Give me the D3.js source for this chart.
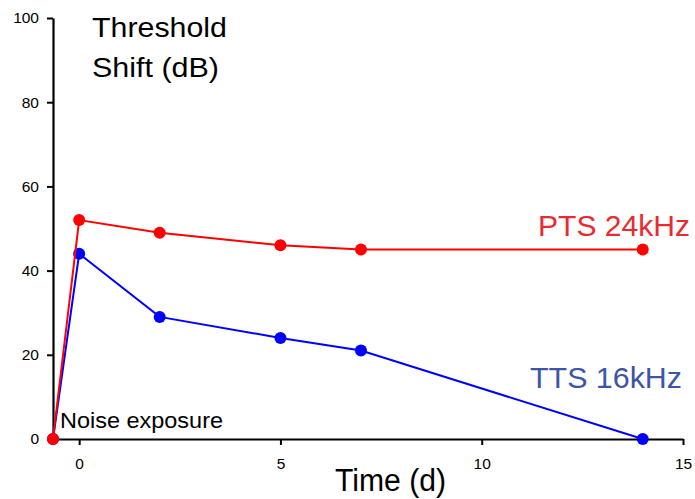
<!DOCTYPE html>
<html>
<head>
<meta charset="utf-8">
<script src="https://cdn.jsdelivr.net/npm/d3@7"></script>
<style>
  body { margin: 0; background: #fff; }
  text { font-family: "Liberation Sans", Arial, sans-serif; }
</style>
</head>
<body>
<div id="canvas"></div>
<script>
"use strict";

/* Data */
let days = [-0.65, 0, 2, 5, 7, 14];
let ptsValues = [0, 52, 49, 46, 45, 45];
let ttsValues = [0, 44, 29, 24, 21, 0];
let xTicks = [0, 5, 10, 15];
let yTicks = [0, 20, 40, 60, 80, 100];

let svgWidth = 695;
let svgHeight = 499;

let svg = d3.select("#canvas")
  .append("svg")
  .attr("width", svgWidth)
  .attr("height", svgHeight);

let xScale = d3.scaleLinear()
  .domain([-0.65, 15])
  .range([53, 683]);

let yScale = d3.scaleLinear()
  .domain([0, 100])
  .range([439, 18]);

/* Axes */
let xAxis = svg.append("g")
  .attr("transform", "translate(0," + yScale(0) + ")")
  .call(d3.axisBottom(xScale).tickValues(xTicks).tickSize(6).tickPadding(13).tickSizeOuter(0));

let yAxis = svg.append("g")
  .attr("transform", "translate(" + xScale(-0.65) + ",0)")
  .call(d3.axisLeft(yScale).tickValues(yTicks).tickSize(6).tickPadding(8).tickSizeOuter(0));

[xAxis, yAxis].forEach(function (ax) {
  ax.select(".domain").attr("stroke-width", 2.2);
  ax.selectAll(".tick line").attr("stroke-width", 2);
  ax.selectAll(".tick text")
    .attr("font-size", 15.5)
    .attr("fill", "#000");
});

/* Series */
let line = d3.line()
  .x(function (d) { return xScale(d[0]); })
  .y(function (d) { return yScale(d[1]); });

function drawSeries(values, color) {
  let pts = days.map(function (d, i) { return [d, values[i]]; });
  svg.append("path")
    .datum(pts)
    .attr("fill", "none")
    .attr("stroke", color)
    .attr("stroke-width", 2)
    .attr("d", line);
  svg.selectAll(null)
    .data(pts)
    .join("circle")
    .attr("cx", function (d) { return xScale(d[0]); })
    .attr("cy", function (d) { return yScale(d[1]); })
    .attr("r", 6)
    .attr("fill", color);
}

drawSeries(ttsValues, "#0000ff");
drawSeries(ptsValues, "#ff0000");

/* Labels */
function label(x, y, size, len, color, str) {
  svg.append("text")
    .attr("x", x).attr("y", y)
    .attr("font-size", size)
    .attr("fill", color)
    .attr("textLength", len)
    .attr("lengthAdjust", "spacingAndGlyphs")
    .text(str);
}

label(92, 37, 27, 135, "#000", "Threshold");
label(92, 77, 27, 127, "#000", "Shift (dB)");
label(538, 236, 29, 152, "#ea2a30", "PTS 24kHz");
label(530, 388, 30, 152, "#3e54a6", "TTS 16kHz");
label(60, 428, 22, 163, "#000", "Noise exposure");
label(335, 491, 31, 111, "#000", "Time (d)");
</script>
</body>
</html>
